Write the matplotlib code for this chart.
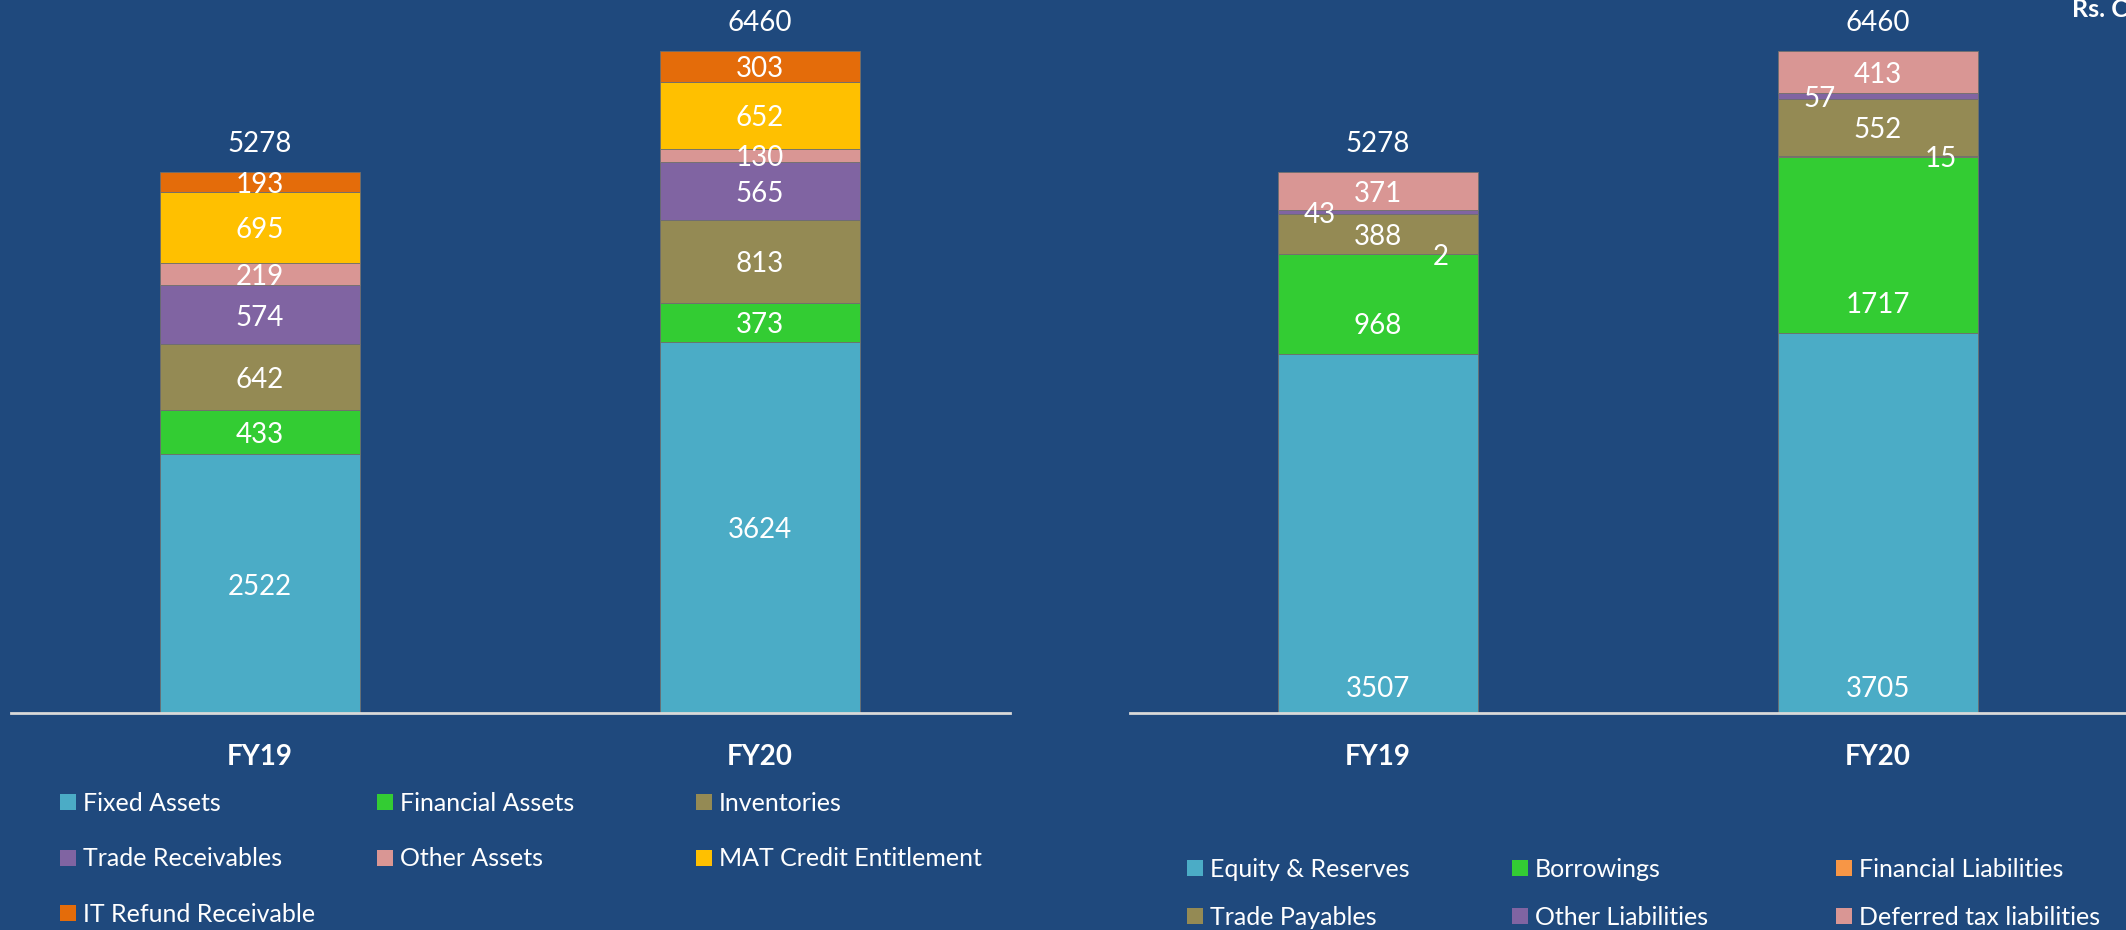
import matplotlib
matplotlib.use('Agg')
import matplotlib.pyplot as plt
from matplotlib.patches import Patch
import numpy as np

plt.rcParams['font.family'] = ['Lato', 'DejaVu Sans']

years = ['FY19', 'FY20']

# assets side
asset_names = ['Fixed Assets', 'Financial Assets', 'Inventories', 'Trade Receivables',
               'Other Assets', 'MAT Credit Entitlement', 'IT Refund Receivable']
fixed_assets = [2522, 3624]
financial_assets = [433, 373]
inventories = [642, 813]
trade_receivables = [574, 565]
other_assets = [219, 130]
mat_credit = [695, 652]
it_refund = [193, 303]
asset_totals = [5278, 6460]

# liabilities side
liab_names = ['Equity & Reserves', 'Borrowings', 'Financial Liabilities', 'Trade Payables',
              'Other Liabilities', 'Deferred tax liabilities']
equity_reserves = [3507, 3705]
borrowings = [968, 1717]
financial_liabilities = [2, 15]
trade_payables = [388, 552]
other_liabilities = [43, 57]
deferred_tax = [371, 413]
liab_totals = [5278, 6460]

BG = '#1F497D'
asset_colors = ['#4BACC6', '#33CC33', '#948A54', '#8064A2', '#D99694', '#FFC000', '#E46C0A']
liab_colors = ['#4BACC6', '#33CC33', '#F79646', '#948A54', '#8064A2', '#D99694']

W, H = 2126, 930
PX_PER_UNIT = 0.1025
BASE_Y = 713  # pixel row of the baseline


def draw_panel(ax, series, colors, totals, label_pos):
    x = np.arange(len(years))
    bottom = np.zeros(len(years))
    for vals, col, (dx, base_px) in zip(series, colors, label_pos):
        vals = np.array(vals, dtype=float)
        ax.bar(x, vals, 0.4, bottom=bottom, color=col, edgecolor='#6f6f6f', linewidth=0.6)
        for xi, v, b in zip(x, vals, bottom):
            if base_px is None:
                ax.annotate(f'{v:.0f}', (xi + dx, b + v / 2), xytext=(0, -2),
                            textcoords='offset points', ha='center', va='center',
                            color='white', fontsize=20)
            else:
                ax.annotate(f'{v:.0f}', (xi + dx, b), xytext=(0, base_px * 0.72),
                            textcoords='offset points', ha='center', va='center',
                            color='white', fontsize=20)
        bottom += vals
    for xi, t in zip(x, totals):
        ax.annotate(str(t), (xi, t), xytext=(0, 20), textcoords='offset points',
                    ha='center', va='center', color='white', fontsize=20)

    ax.set_facecolor('none')
    ax.set_ylim(0, BASE_Y / PX_PER_UNIT)
    for s in ['top', 'left', 'right']:
        ax.spines[s].set_visible(False)
    ax.spines['bottom'].set_color('#D9D9D9')
    ax.spines['bottom'].set_linewidth(2)
    ax.set_yticks([])
    ax.set_xticks(x, years, fontweight='bold', fontsize=20, color='white')
    ax.tick_params(axis='x', length=0, pad=22)


def add_legend(fig, names, colors, cols, xs, top_px, spacing):
    handles = [Patch(facecolor=c, edgecolor='none') for c in colors]
    for col, xp in zip(cols, xs):
        fig.legend([handles[i] for i in col], [names[i] for i in col],
                   loc='upper left', bbox_to_anchor=(xp / W, 1 - top_px / H),
                   frameon=False, fontsize=18, labelcolor='white',
                   handlelength=0.62, handleheight=0.62, handletextpad=0.3,
                   borderpad=0, borderaxespad=0, labelspacing=spacing)


fig = plt.figure(figsize=(W / 100, H / 100), dpi=100, facecolor=BG)

ax1 = fig.add_axes([11 / W, (H - BASE_Y) / H, 999 / W, BASE_Y / H])
ax1.set_xlim(-0.498, 1.5)
draw_panel(ax1,
           [fixed_assets, financial_assets, inventories, trade_receivables,
            other_assets, mat_credit, it_refund],
           asset_colors, asset_totals, [(0, None)] * 7)

ax2 = fig.add_axes([1130 / W, (H - BASE_Y) / H, 996 / W, BASE_Y / H])
ax2.set_xlim(-0.496, 1.496)
draw_panel(ax2,
           [equity_reserves, borrowings, financial_liabilities, trade_payables,
            other_liabilities, deferred_tax],
           liab_colors, liab_totals,
           [(0, 24), (0, 28), (0.125, None), (0, None), (-0.116, None), (0, None)])

add_legend(fig, asset_names, asset_colors, [[0, 3, 6], [1, 4], [2, 5]],
           [60, 377, 696], 792, 1.3)
add_legend(fig, liab_names, liab_colors, [[0, 3], [1, 4], [2, 5]],
           [1187, 1512, 1836], 858, 1.0)

# unit note, cut by the right edge as in the source slide
fig.text(2072 / W, 1 - 17 / H, 'Rs. Cr', fontweight='bold', fontsize=18,
         color='white', va='baseline')

fig.savefig('out.png', dpi=100, facecolor=fig.get_facecolor())
